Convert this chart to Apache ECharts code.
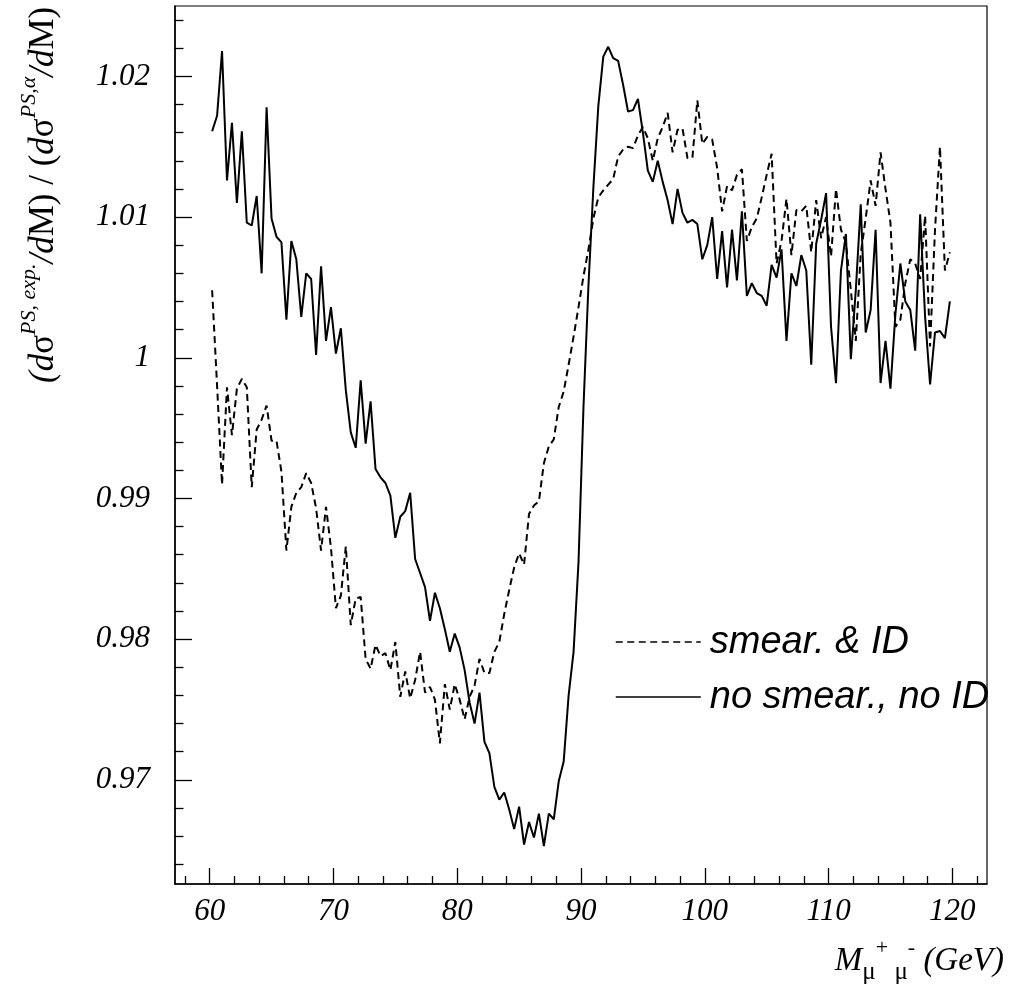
<!DOCTYPE html>
<html>
<head>
<meta charset="utf-8">
<script src="https://cdn.jsdelivr.net/npm/echarts@6/dist/echarts.min.js"></script>
<style>html,body{margin:0;padding:0;background:#fff}#c{width:1029px;height:984px}</style>
</head>
<body>
<div id="c"></div>
<script>
// ---- data (bin centres of 0.4 GeV bins from 60 to 120 GeV) ----
const binStart = 60, binWidth = 0.4, nBins = 150;
const binCenters = [];
for (let i = 0; i < nBins; i++) binCenters.push(+(binStart + binWidth * (i + 0.5)).toFixed(2));

const seriesNames = ['smear. & ID', 'no smear., no ID'];

const smearID = [
1.0048,0.9980,0.9910,0.9979,0.9945,0.9978,0.9985,0.9979,0.9908,0.9949,
0.9956,0.9966,0.9941,0.9941,0.9919,0.9863,0.9894,0.9904,0.9908,0.9918,
0.9911,0.9893,0.9863,0.9894,0.9865,0.9822,0.9831,0.9866,0.9810,0.9829,
0.9830,0.9786,0.9779,0.9796,0.9788,0.9790,0.9778,0.9798,0.9759,0.9777,
0.9758,0.9771,0.9791,0.9762,0.9766,0.9757,0.9726,0.9768,0.9750,0.9768,
0.9757,0.9743,0.9759,0.9767,0.9786,0.9776,0.9776,0.9791,0.9798,0.9818,
0.9835,0.9851,0.9861,0.9853,0.9889,0.9895,0.9898,0.9925,0.9937,0.9942,
0.9965,0.9976,0.9995,1.0015,1.0036,1.0058,1.0077,1.0099,1.0114,1.0119,
1.0123,1.0127,1.0143,1.0148,1.0150,1.0149,1.0158,1.0164,1.0156,1.0140,
1.0156,1.0164,1.0174,1.0146,1.0162,1.0163,1.0142,1.0142,1.0183,1.0152,
1.0157,1.0155,1.0135,1.0104,1.0122,1.0119,1.0130,1.0134,1.0083,1.0093,
1.0099,1.0114,1.0130,1.0145,1.0067,1.0083,1.0113,1.0073,1.0105,1.0104,
1.0108,1.0075,1.0112,1.0085,1.0100,1.0072,1.0120,1.0091,1.0082,1.0048,
1.0012,1.0074,1.0099,1.0126,1.0108,1.0146,1.0120,1.0096,1.0022,1.0027,
1.0053,1.0070,1.0067,1.0056,1.0101,1.0008,1.0091,1.0150,1.0062,1.0075
];

const noSmearNoID = [
1.0161,1.0172,1.0218,1.0126,1.0167,1.0110,1.0161,1.0096,1.0094,1.0115,
1.0060,1.0178,1.0099,1.0086,1.0082,1.0027,1.0083,1.0070,1.0029,1.0060,
1.0056,1.0002,1.0065,1.0012,1.0036,1.0003,1.0021,0.9977,0.9947,0.9936,
0.9984,0.9939,0.9969,0.9921,0.9915,0.9911,0.9902,0.9872,0.9887,0.9891,
0.9904,0.9857,0.9847,0.9837,0.9813,0.9833,0.9822,0.9807,0.9791,0.9804,
0.9794,0.9778,0.9755,0.9740,0.9762,0.9727,0.9719,0.9695,0.9686,0.9691,
0.9679,0.9665,0.9681,0.9654,0.9670,0.9659,0.9676,0.9653,0.9676,0.9672,
0.9699,0.9713,0.9760,0.9791,0.9855,0.9965,1.0051,1.0121,1.0179,1.0214,
1.0221,1.0213,1.0211,1.0194,1.0175,1.0176,1.0184,1.0160,1.0133,1.0125,
1.0140,1.0125,1.0112,1.0095,1.0120,1.0103,1.0096,1.0098,1.0095,1.0070,
1.0080,1.0100,1.0056,1.0090,1.0050,1.0091,1.0055,1.0104,1.0044,1.0053,
1.0046,1.0044,1.0037,1.0066,1.0057,1.0077,1.0012,1.0060,1.0051,1.0073,
1.0062,0.9995,1.0081,1.0098,1.0117,1.0022,0.9982,1.0062,1.0088,0.9999,
1.0048,1.0109,1.0018,1.0034,1.0091,0.9982,1.0012,0.9978,1.0031,1.0067,
1.0040,1.0034,1.0005,1.0102,1.0029,0.9981,1.0018,1.0019,1.0014,1.0040
];

// ---- ticks ----
const xMajorTicks = [60, 70, 80, 90, 100, 110, 120];
const xMinorTicks = [58, 62, 64, 66, 68, 72, 74, 76, 78, 82, 84, 86, 88, 92, 94, 96, 98,
                     102, 104, 106, 108, 112, 114, 116, 118, 122];
const yMajorTicks = [0.97, 0.98, 0.99, 1, 1.01, 1.02];
const yMinorTicks = [0.964, 0.966, 0.968, 0.972, 0.974, 0.976, 0.978, 0.982, 0.984, 0.986, 0.988,
                     0.992, 0.994, 0.996, 0.998, 1.002, 1.004, 1.006, 1.008, 1.012, 1.014, 1.016, 1.018,
                     1.022, 1.024];

const xMin = 57.2, xMax = 122.8, yMin = 0.9626, yMax = 1.025;

const pairs = arr => arr.map((v, i) => [binCenters[i], v]);

const serif = 'Liberation Serif';
const tickFont = { fontFamily: serif, fontStyle: 'italic', fontSize: 31, color: '#000' };

const chart = echarts.init(document.getElementById('c'), null, { renderer: 'canvas' });
chart.setOption({
  backgroundColor: '#fff',
  animation: false,
  grid: { left: 175, right: 42, top: 6, bottom: 100, show: true, borderColor: '#000', borderWidth: 1.2, backgroundColor: 'transparent' },
  xAxis: [
    { type: 'value', min: xMin, max: xMax, position: 'bottom',
      axisLine: { lineStyle: { color: '#000', width: 1.5 } },
      axisTick: { inside: true, length: 16, customValues: xMajorTicks, lineStyle: { color: '#000', width: 1.3 } },
      axisLabel: Object.assign({ customValues: xMajorTicks, margin: 12 }, tickFont),
      splitLine: { show: false } },
    { type: 'value', min: xMin, max: xMax, position: 'bottom',
      axisLine: { show: false },
      axisTick: { inside: true, length: 8, customValues: xMinorTicks, lineStyle: { color: '#000', width: 1.3 } },
      axisLabel: { show: false }, splitLine: { show: false } }
  ],
  yAxis: [
    { type: 'value', min: yMin, max: yMax, position: 'left',
      axisLine: { show: true, lineStyle: { color: '#000', width: 1.5 } },
      axisTick: { show: true, inside: true, length: 17, customValues: yMajorTicks, lineStyle: { color: '#000', width: 1.3 } },
      axisLabel: Object.assign({ customValues: yMajorTicks, margin: 25 }, tickFont),
      splitLine: { show: false } },
    { type: 'value', min: yMin, max: yMax, position: 'left',
      axisLine: { show: false },
      axisTick: { show: true, inside: true, length: 8.5, customValues: yMinorTicks, lineStyle: { color: '#000', width: 1.3 } },
      axisLabel: { show: false }, splitLine: { show: false } }
  ],
  legend: {
    data: seriesNames,
    orient: 'vertical', left: 610, top: 618,
    itemWidth: 85, itemHeight: 38, itemGap: 17,
    itemStyle: { opacity: 0 },
    lineStyle: { width: 1.5, opacity: 1 },
    textStyle: { fontFamily: 'Liberation Sans', fontStyle: 'italic', fontSize: 38, color: '#000', padding: [0, 0, 0, 4] }
  },
  series: [
    { name: seriesNames[0], type: 'line', xAxisIndex: 0, yAxisIndex: 0, data: pairs(smearID),
      symbol: 'none', lineStyle: { color: '#000', width: 2, type: [7, 4.5] }, itemStyle: { color: '#000' } },
    { name: seriesNames[1], type: 'line', xAxisIndex: 0, yAxisIndex: 0, data: pairs(noSmearNoID),
      symbol: 'none', lineStyle: { color: '#000', width: 2, type: 'solid' }, itemStyle: { color: '#000' } }
  ],
  graphic: [
    { type: 'text', x: 44, y: 383, rotation: Math.PI / 2,
      style: {
        text: '{i|(d}{u|σ}{s|PS, exp.}{i|/d}{u|M) / (}{i|d}{u|σ}{s|PS,α}{i|/d}{u|M)}',
        align: 'left', verticalAlign: 'middle',
        rich: {
          i: { fontFamily: serif, fontStyle: 'italic', fontSize: 35, lineHeight: 52, fill: '#000', verticalAlign: 'middle' },
          u: { fontFamily: serif, fontSize: 35, lineHeight: 52, fill: '#000', verticalAlign: 'middle' },
          s: { fontFamily: serif, fontStyle: 'italic', fontSize: 22, lineHeight: 20, fill: '#000', verticalAlign: 'top' }
        }
      } },
    { type: 'text', x: 1004, y: 961,
      style: {
        text: '{i|M}{sub|μ}{sup|+}{sub| μ}{sup|-}{i| (GeV)}',
        align: 'right', verticalAlign: 'middle',
        rich: {
          i: { fontFamily: serif, fontStyle: 'italic', fontSize: 33, lineHeight: 48, fill: '#000', verticalAlign: 'middle' },
          sub: { fontFamily: serif, fontSize: 25, lineHeight: 26, fill: '#000', verticalAlign: 'bottom' },
          sup: { fontFamily: serif, fontSize: 22, lineHeight: 22, fill: '#000', verticalAlign: 'top' }
        }
      } }
  ]
});
</script>
</body>
</html>
